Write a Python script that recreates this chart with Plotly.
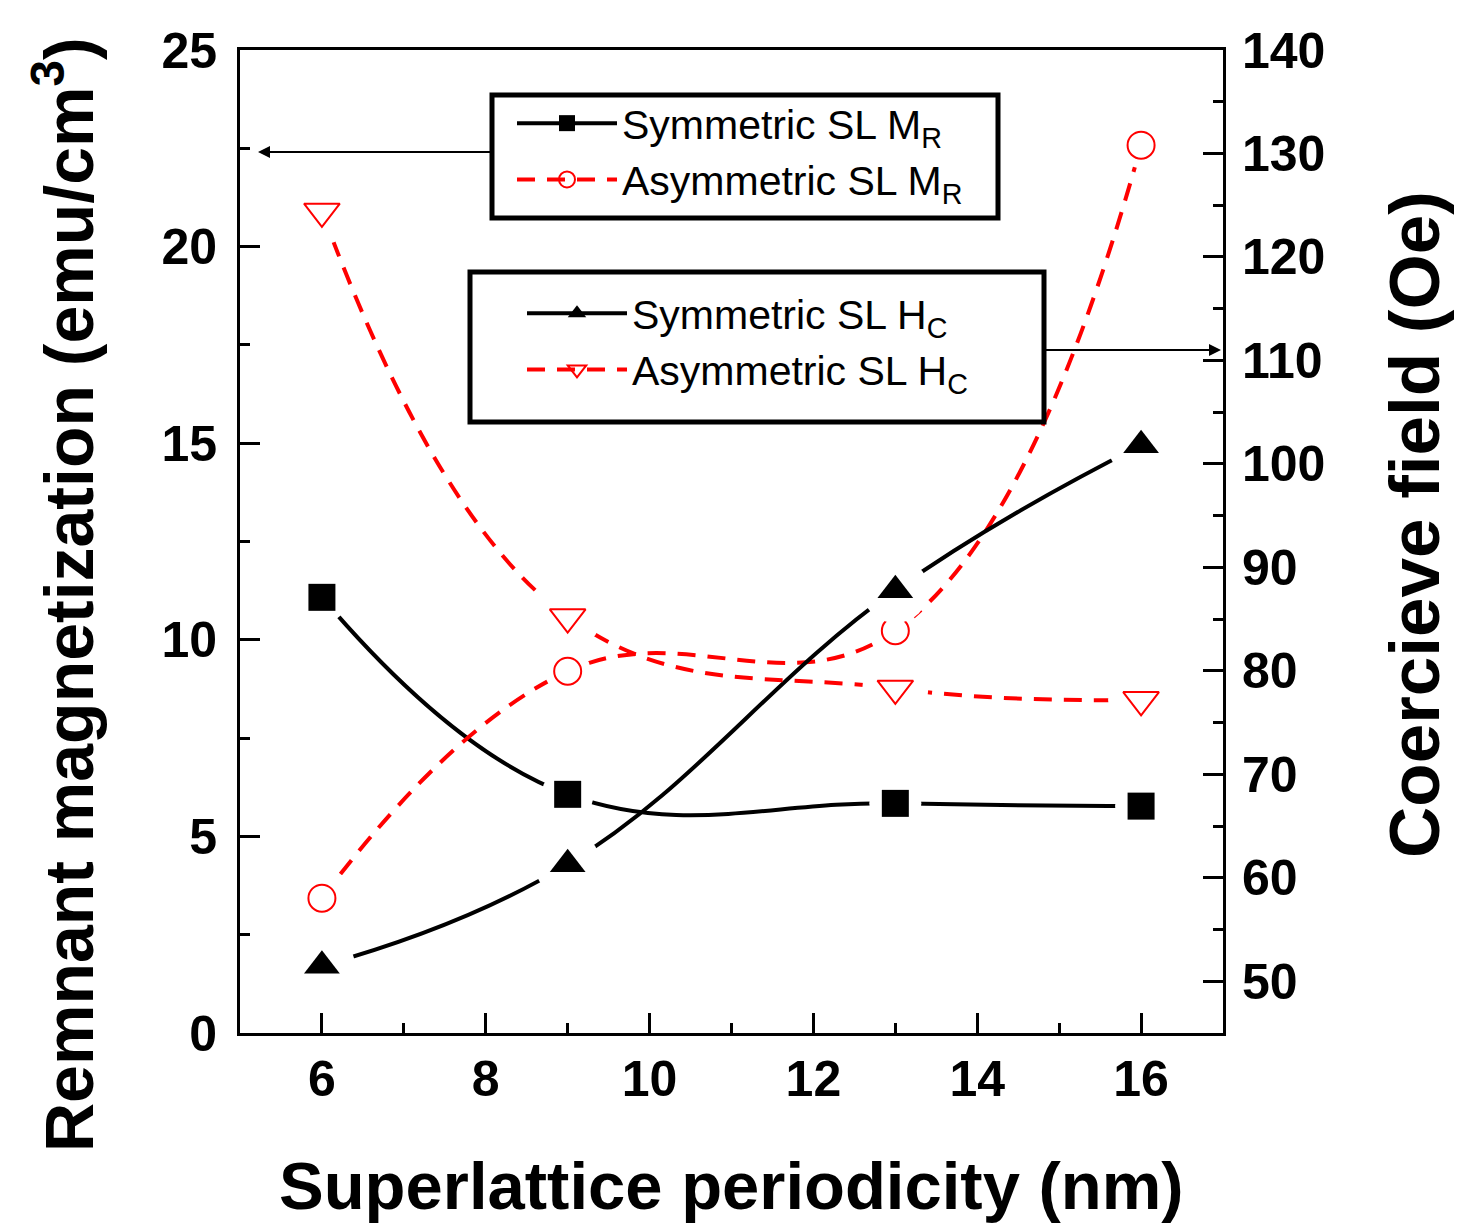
import plotly.graph_objects as go

# ---- data ----
periodicity = [6, 9, 13, 16]                 # nm
sym_mr = [11.08, 6.07, 5.84, 5.77]           # emu/cm3, left axis
asym_mr = [3.43, 9.20, 10.23, 22.58]         # emu/cm3, left axis
sym_hc = [51.5, 61.3, 87.8, 101.8]           # Oe, right axis
asym_hc = [124.4, 85.2, 78.3, 77.2]          # Oe, right axis

names = ["Symmetric SL M<sub>R</sub>", "Asymmetric SL M<sub>R</sub>",
         "Symmetric SL H<sub>C</sub>", "Asymmetric SL H<sub>C</sub>"]

x_title = "Superlattice periodicity (nm)"
y_title = "Remnant magnetization (emu/cm<sup>3</sup>)"
y2_title = "Coercieve field (Oe)"

# ---- layout helpers (pixel -> paper) ----
W, H = 1463, 1232
L, R, T, B = 240, 1223, 50, 1033


def px(xp):
    return (xp - L) / (R - L)


def py(yp):
    return (B - yp) / (B - T)


FONT = "Liberation Sans, Arial, Helvetica, sans-serif"
DASH = "18px,12px"

series = [
    dict(name=names[0], y=sym_mr, yaxis="y", color="black", dash="solid",
         symbol="square", size=27, halo=52, legend="legend", lsize=20),
    dict(name=names[1], y=asym_mr, yaxis="y", color="red", dash=DASH,
         symbol="circle-open", size=27, halo=46, legend="legend", lsize=20),
    dict(name=names[2], y=sym_hc, yaxis="y2", color="black", dash="solid",
         symbol="triangle-up", size=31, halo=66, legend="legend2", lsize=22),
    dict(name=names[3], y=asym_hc, yaxis="y2", color="red", dash=DASH,
         symbol="triangle-down-open", size=31, halo=66, legend="legend2", lsize=22),
]

fig = go.Figure()

# lines
for s in series:
    fig.add_trace(go.Scatter(
        x=periodicity, y=s["y"], yaxis=s["yaxis"], mode="lines",
        line=dict(color=s["color"], width=4, dash=s["dash"], shape="spline", smoothing=1.2),
        showlegend=False, hoverinfo="skip"))

# white halos (gap between line and symbol)
for s in series:
    fig.add_trace(go.Scatter(
        x=periodicity, y=s["y"], yaxis=s["yaxis"], mode="markers",
        marker=dict(symbol="circle", size=s["halo"], color="white", line=dict(width=0)),
        showlegend=False, hoverinfo="skip"))

# symbols
for s in series:
    open_sym = s["symbol"].endswith("open")
    fig.add_trace(go.Scatter(
        x=periodicity, y=s["y"], yaxis=s["yaxis"], mode="markers",
        marker=dict(symbol=s["symbol"], size=s["size"], color=s["color"],
                    line=dict(width=2 if open_sym else 0, color=s["color"])),
        showlegend=False, name=s["name"]))

# legend entries
for s in series:
    open_sym = s["symbol"].endswith("open")
    fig.add_trace(go.Scatter(
        x=[None], y=[None], yaxis=s["yaxis"], mode="lines+markers", name=s["name"],
        legend=s["legend"],
        line=dict(color=s["color"], width=4, dash=s["dash"]),
        marker=dict(symbol=s["symbol"], size=s["lsize"], color=s["color"],
                    line=dict(width=2 if open_sym else 0, color=s["color"]))))

axis_common = dict(showline=True, linewidth=3, linecolor="black", ticks="inside",
                   ticklen=20, tickwidth=3, tickcolor="black", showgrid=False,
                   zeroline=False, tickfont=dict(family=FONT, size=50, color="black", weight="bold"))

fig.update_layout(
    width=W, height=H,
    margin=dict(l=L, r=W - R, t=T, b=H - B),
    paper_bgcolor="white", plot_bgcolor="white",
    font=dict(family=FONT, color="black"),
    xaxis=dict(range=[5, 17], tick0=0, dtick=2, mirror=True, ticklabelstandoff=0,
               minor=dict(dtick=1, ticklen=10, tickwidth=3, tickcolor="black", ticks="inside"),
               **axis_common),
    yaxis=dict(range=[0, 25], tick0=0, dtick=5, ticklabelstandoff=10,
               minor=dict(dtick=2.5, ticklen=10, tickwidth=3, tickcolor="black", ticks="inside"),
               **axis_common),
    yaxis2=dict(range=[45, 140], tick0=0, dtick=10, overlaying="y", side="right",
                ticklabelstandoff=6,
                minor=dict(dtick=5, ticklen=10, tickwidth=3, tickcolor="black", ticks="inside"),
                **axis_common),
    legend=dict(x=px(512), y=py(90), xanchor="left", yanchor="top",
                bgcolor="rgba(0,0,0,0)", borderwidth=0, itemwidth=100,
                font=dict(family=FONT, size=41, color="black")),
    legend2=dict(x=px(522), y=py(280), xanchor="left", yanchor="top",
                 bgcolor="rgba(0,0,0,0)", borderwidth=0, itemwidth=100,
                 font=dict(family=FONT, size=41, color="black")),
    shapes=[
        dict(type="rect", xref="paper", yref="paper", x0=px(492), x1=px(998),
             y0=py(218), y1=py(95), line=dict(color="black", width=5)),
        dict(type="rect", xref="paper", yref="paper", x0=px(470), x1=px(1044),
             y0=py(422), y1=py(272), line=dict(color="black", width=5)),
    ],
    annotations=[
        dict(xref="paper", yref="paper", x=px(258), y=py(152), ax=492 - 258, ay=0,
             text="", showarrow=True, arrowhead=2, arrowsize=1.2, arrowwidth=2,
             arrowcolor="black", standoff=0, startstandoff=0),
        dict(xref="paper", yref="paper", x=px(1221), y=py(350), ax=1044 - 1221, ay=0,
             text="", showarrow=True, arrowhead=2, arrowsize=1.2, arrowwidth=2,
             arrowcolor="black", standoff=0, startstandoff=0),
        dict(xref="paper", yref="paper", x=0.5, y=py(1186), text=x_title, showarrow=False,
             xanchor="center", yanchor="middle",
             font=dict(family=FONT, size=67, color="black", weight="bold")),
        dict(xref="paper", yref="paper", x=px(64), y=py(595), text=y_title, showarrow=False,
             textangle=-90, xanchor="center", yanchor="middle",
             font=dict(family=FONT, size=68, color="black", weight="bold")),
        dict(xref="paper", yref="paper", x=px(1414), y=py(525), text=y2_title, showarrow=False,
             textangle=-90, xanchor="center", yanchor="middle",
             font=dict(family=FONT, size=71, color="black", weight="bold")),
    ],
)

fig.write_html("out.html")
